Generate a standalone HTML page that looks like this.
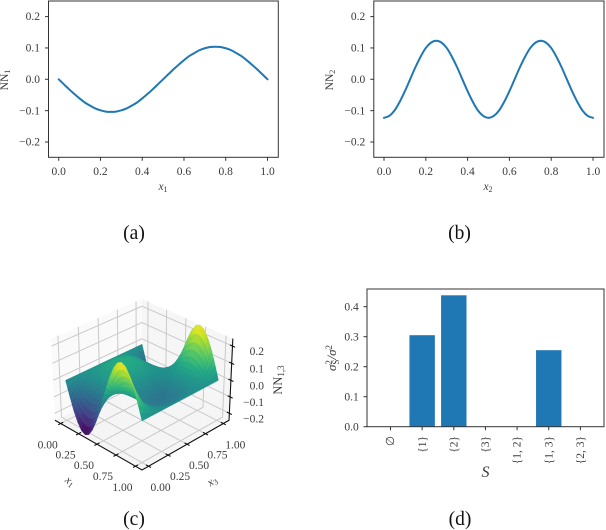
<!DOCTYPE html>
<html lang="en">
<head>
<meta charset="utf-8">
<title>Neural network component functions</title>
<style>
html,body{margin:0;padding:0;background:#fff;width:606px;height:530px;overflow:hidden}
svg{position:absolute;left:0;top:0;filter:blur(.35px)}
text{font-family:"Liberation Serif","DejaVu Serif",serif;fill:#3a3a3a;font-size:11.5px}
.cap{font-size:19.5px;fill:#111;text-anchor:middle}
.i{font-style:italic}
.u{font-style:normal}
</style>
</head>
<body>
<svg id="fig" xmlns="http://www.w3.org/2000/svg" width="606" height="530" viewBox="0 0 606 530">
<g id="a"></g>
<g id="b"></g>
<g id="c"></g>
<g id="d"></g>

<text class="i" x="163" y="190" text-anchor="middle">x<tspan class="u" font-size="8" dy="2">1</tspan></text>
<text x="0" y="0" text-anchor="middle" transform="translate(8,80) rotate(-90)">NN<tspan font-size="8" dy="2">1</tspan></text>
<text class="i" x="488" y="190" text-anchor="middle">x<tspan class="u" font-size="8" dy="2">2</tspan></text>
<text x="0" y="0" text-anchor="middle" transform="translate(333,80) rotate(-90)">NN<tspan font-size="8" dy="2">2</tspan></text>
<text class="i" x="0" y="0" text-anchor="middle" transform="translate(68,484) rotate(38)">x<tspan class="u" font-size="8" dy="2">1</tspan></text>
<text class="i" x="0" y="0" text-anchor="middle" transform="translate(214,484) rotate(-35)">x<tspan class="u" font-size="8" dy="2">3</tspan></text>
<text x="0" y="0" text-anchor="middle" style="font-size:12.5px" transform="translate(282,380) rotate(-90)">NN<tspan font-size="9" dy="2">1,3</tspan></text>
<text class="i" x="0" y="0" text-anchor="middle" style="font-size:13px" transform="translate(336,358) rotate(-90)">σ<tspan class="u" font-size="9" dy="-4">2</tspan><tspan class="u" font-size="9" dx="-4.5" dy="7">S</tspan><tspan dy="-3">/σ</tspan><tspan class="u" font-size="9" dy="-4">2</tspan></text>
<text class="i" x="485.5" y="477" text-anchor="middle" style="font-size:16px">S</text>

<text class="cap" x="134" y="239">(a)</text>
<text class="cap" x="459.5" y="239">(b)</text>
<text class="cap" x="134" y="525">(c)</text>
<text class="cap" x="460" y="525">(d)</text>
</svg>

<script>
// ---------- chart data ----------
const lineX = [0,.025,.05,.075,.1,.125,.15,.175,.2,.225,.25,.275,.3,.325,.35,.375,.4,.425,.45,.475,.5,.525,.55,.575,.6,.625,.65,.675,.7,.725,.75,.775,.8,.825,.85,.875,.9,.925,.95,.975,1];
const nn1Values = [0,-.016,-.032,-.047,-.061,-.074,-.084,-.093,-.099,-.103,-.104,-.103,-.099,-.093,-.084,-.074,-.061,-.047,-.032,-.016,0,.016,.032,.047,.061,.074,.084,.093,.099,.103,.104,.103,.099,.093,.084,.074,.061,.047,.032,.016,0];
const nn2Values = [-.123,-.117,-.1,-.072,-.038,0,.038,.072,.1,.117,.123,.117,.1,.072,.038,0,-.038,-.072,-.1,-.117,-.123,-.117,-.1,-.072,-.038,0,.038,.072,.1,.117,.123,.117,.1,.072,.038,0,-.038,-.072,-.1,-.117,-.123];
const lineXTicks = [0,.2,.4,.6,.8,1];
const lineXTickLabels = ['0.0','0.2','0.4','0.6','0.8','1.0'];
const lineYTicks = [-.2,-.1,0,.1,.2];
const lineYTickLabels = ['−0.2','−0.1','0.0','0.1','0.2'];

const barCategories = ['∅','{1}','{2}','{3}','{1, 2}','{1, 3}','{2, 3}'];
const barValues = [0,.305,.438,0,0,.255,0];
const barYTicks = [0,.1,.2,.3,.4];
const barYTickLabels = ['0.0','0.1','0.2','0.3','0.4'];

const surfaceTicks = [0,.25,.5,.75,1];
const surfaceTickLabels = ['0.00','0.25','0.50','0.75','1.00'];
const surfaceZTicks = [-.2,-.1,0,.1,.2];
const surfaceZTickLabels = ['−0.2','−0.1','0.0','0.1','0.2'];
// rows: x3 = 0 ... 1, columns: x1 = 0 ... 1
const surfaceZ = [
[0,-.083,-.159,-.218,-.257,-.27,-.257,-.218,-.159,-.083,0,.083,.159,.218,.257,.27,.257,.218,.159,.083,0],
[0,-.056,-.106,-.146,-.171,-.18,-.171,-.146,-.106,-.056,0,.056,.106,.146,.171,.18,.171,.146,.106,.056,0],
[0,-.032,-.062,-.085,-.1,-.105,-.1,-.085,-.062,-.032,0,.032,.062,.085,.1,.105,.1,.085,.062,.032,0],
[0,-.015,-.029,-.04,-.048,-.05,-.048,-.04,-.029,-.015,0,.015,.029,.04,.048,.05,.048,.04,.029,.015,0],
[0,-.004,-.007,-.01,-.011,-.012,-.011,-.01,-.007,-.004,0,.004,.007,.01,.011,.012,.011,.01,.007,.004,0],
[0,.004,.007,.01,.011,.012,.011,.01,.007,.004,0,-.004,-.007,-.01,-.011,-.012,-.011,-.01,-.007,-.004,0],
[0,.009,.018,.024,.029,.03,.029,.024,.018,.009,0,-.009,-.018,-.024,-.029,-.03,-.029,-.024,-.018,-.009,0],
[0,.014,.026,.036,.043,.045,.043,.036,.026,.014,0,-.014,-.026,-.036,-.043,-.045,-.043,-.036,-.026,-.014,0],
[0,.017,.032,.044,.051,.054,.051,.044,.032,.017,0,-.017,-.032,-.044,-.051,-.054,-.051,-.044,-.032,-.017,0],
[0,.018,.034,.047,.055,.058,.055,.047,.034,.018,0,-.018,-.034,-.047,-.055,-.058,-.055,-.047,-.034,-.018,0],
[0,.019,.035,.049,.057,.06,.057,.049,.035,.019,0,-.019,-.035,-.049,-.057,-.06,-.057,-.049,-.035,-.019,0],
[0,.018,.034,.047,.055,.058,.055,.047,.034,.018,0,-.018,-.034,-.047,-.055,-.058,-.055,-.047,-.034,-.018,0],
[0,.017,.032,.044,.051,.054,.051,.044,.032,.017,0,-.017,-.032,-.044,-.051,-.054,-.051,-.044,-.032,-.017,0],
[0,.014,.026,.036,.043,.045,.043,.036,.026,.014,0,-.014,-.026,-.036,-.043,-.045,-.043,-.036,-.026,-.014,0],
[0,.009,.018,.024,.029,.03,.029,.024,.018,.009,0,-.009,-.018,-.024,-.029,-.03,-.029,-.024,-.018,-.009,0],
[0,.004,.007,.01,.011,.012,.011,.01,.007,.004,0,-.004,-.007,-.01,-.011,-.012,-.011,-.01,-.007,-.004,0],
[0,-.004,-.007,-.01,-.011,-.012,-.011,-.01,-.007,-.004,0,.004,.007,.01,.011,.012,.011,.01,.007,.004,0],
[0,-.015,-.029,-.04,-.048,-.05,-.048,-.04,-.029,-.015,0,.015,.029,.04,.048,.05,.048,.04,.029,.015,0],
[0,-.032,-.062,-.085,-.1,-.105,-.1,-.085,-.062,-.032,0,.032,.062,.085,.1,.105,.1,.085,.062,.032,0],
[0,-.056,-.106,-.146,-.171,-.18,-.171,-.146,-.106,-.056,0,.056,.106,.146,.171,.18,.171,.146,.106,.056,0],
[0,-.083,-.159,-.218,-.257,-.27,-.257,-.218,-.159,-.083,0,.083,.159,.218,.257,.27,.257,.218,.159,.083,0]
];

// ---------- helpers ----------
const SVGNS = 'http://www.w3.org/2000/svg';
function make(tag, parent, attrs, txt) {
  const n = document.createElementNS(SVGNS, tag);
  for (const k in attrs) n.setAttribute(k, attrs[k]);
  if (txt !== undefined) n.textContent = txt;
  parent.appendChild(n);
  return n;
}
const DARK = '#333';
const BLUE = '#1f77b4';

function smoothPath(p) {
  let d = 'M' + p[0][0].toFixed(2) + ' ' + p[0][1].toFixed(2);
  for (let i = 0; i < p.length - 1; i++) {
    const a = p[Math.max(0, i - 1)], b = p[i], c = p[i + 1], e = p[Math.min(p.length - 1, i + 2)];
    d += 'C' + (b[0] + (c[0] - a[0]) / 6).toFixed(2) + ' ' + (b[1] + (c[1] - a[1]) / 6).toFixed(2) + ' ' +
         (c[0] - (e[0] - b[0]) / 6).toFixed(2) + ' ' + (c[1] - (e[1] - b[1]) / 6).toFixed(2) + ' ' +
         c[0].toFixed(2) + ' ' + c[1].toFixed(2);
  }
  return d;
}

// ---------- line panels ----------
function linePanel(parentId, left, right, x0, x1, labelRight, values, seriesName) {
  const g = document.getElementById(parentId);
  const sx = v => x0 + (x1 - x0) * v;
  const sy = v => 79.3 - 313.5 * v;
  const top = 1, bottom = 157.3;
  const pts = values.map((v, i) => [sx(lineX[i]), sy(v)]);
  const line = make('path', g, {d: smoothPath(pts), fill: 'none', stroke: BLUE, 'stroke-width': 2, 'stroke-linejoin': 'round', 'stroke-linecap': 'round'});
  
  
  const frame = make('rect', g, {x: left, y: top, width: right - left, height: bottom - top, fill: 'none', stroke: DARK, 'stroke-width': 1});
  
  
  lineXTicks.forEach((t, i) => {
    const tick = make('line', g, {x1: sx(t), x2: sx(t), y1: bottom, y2: bottom + 3.5, stroke: DARK, 'stroke-width': 1});
    
    
    const lab = make('text', g, {x: sx(t), y: 175, 'text-anchor': 'middle'}, lineXTickLabels[i]);
    
    
  });
  lineYTicks.forEach((t, i) => {
    const tick = make('line', g, {x1: left - 3.5, x2: left, y1: sy(t), y2: sy(t), stroke: DARK, 'stroke-width': 1});
    
    
    const lab = make('text', g, {x: labelRight, y: sy(t) + 3.6, 'text-anchor': 'end'}, lineYTickLabels[i]);
    
    
  });
}
linePanel('a', 48.5, 278.3, 58.7, 267.5, 40, nn1Values, 'nn1-line');
linePanel('b', 373.8, 604, 384, 593, 365.3, nn2Values, 'nn2-line');

// ---------- bar panel ----------
(function () {
  const g = document.getElementById('d');
  const left = 367, right = 604, top = 289, bottom = 426.7;
  const sx = i => 390.5 + 31.65 * i;
  const sy = v => bottom - 300 * v;
  const bw = 25.4;
  barValues.forEach((v, i) => {
    const bar = make('rect', g, {x: sx(i) - bw / 2, y: sy(v), width: bw, height: bottom - sy(v), fill: BLUE});
    
    
  });
  const frame = make('rect', g, {x: left, y: top, width: right - left, height: bottom - top, fill: 'none', stroke: DARK, 'stroke-width': 1});
  
  
  barCategories.forEach((c, i) => {
    const tick = make('line', g, {x1: sx(i), x2: sx(i), y1: bottom, y2: bottom + 3.5, stroke: DARK, 'stroke-width': 1});
    
    
    const lab = make('text', g, {x: 0, y: 0, 'text-anchor': 'end', transform: 'translate(' + (sx(i) + 3.6) + ',436) rotate(-90)'}, c);
    
    
  });
  barYTicks.forEach((t, i) => {
    const tick = make('line', g, {x1: left - 3.5, x2: left, y1: sy(t), y2: sy(t), stroke: DARK, 'stroke-width': 1});
    
    
    const lab = make('text', g, {x: 358.8, y: sy(t) + 3.6, 'text-anchor': 'end'}, barYTickLabels[i]);
    
    
  });
})();

// ---------- 3D surface panel ----------
(function () {
  const g = document.getElementById('c');
  const F = 1100, D = 8.75, CX = 142, CY = 380.3, S = .86, ZS = 1.543;
  const viridis = [[68,1,84],[72,36,117],[65,68,135],[53,95,141],[42,120,142],[33,145,140],[34,168,132],[68,191,112],[122,209,81],[189,223,38],[253,231,37]];
  function pn(X, Y, Z) {
    const r = (X + Y) * .7071;
    const u = (-X + Y) * .3536 + Z * .866;
    const w = (X - Y) * .6124 + Z * .5;
    const d = D - w;
    return {x: CX + F * r / d, y: CY - F * u / d, w: w};
  }
  const nx = v => (v - .5) * S;
  const nz = v => v * ZS;
  function colour(z) {
    let t = Math.max(0, Math.min(1, (z + .27) / .54)) * 10;
    const i = Math.min(9, Math.floor(t)); t -= i;
    const a = viridis[i], b = viridis[i + 1];
    return 'rgb(' + a.map((c, k) => Math.round(c + (b[k] - c) * t)).join(',') + ')';
  }
  const P = (a) => a.map(p => p.x.toFixed(2) + ',' + p.y.toFixed(2)).join(' ');
  const B = .5, T = .375;

  const paneL = make('polygon', g, {points: P([pn(-B,-B,-T),pn(-B,B,-T),pn(-B,B,T),pn(-B,-B,T)]), fill: '#fafafa'});
  
  
  const paneR = make('polygon', g, {points: P([pn(-B,B,-T),pn(B,B,-T),pn(B,B,T),pn(-B,B,T)]), fill: '#f6f6f6'});
  
  
  const paneF = make('polygon', g, {points: P([pn(-B,-B,-T),pn(B,-B,-T),pn(B,B,-T),pn(-B,B,-T)]), fill: '#f5f5f5'});
  
  

  const GRID = {fill: 'none', stroke: '#c9c9c9', 'stroke-width': 1};
  surfaceTicks.forEach(t => {
    const a = make('polyline', g, Object.assign({points: P([pn(nx(t),-B,-T),pn(nx(t),B,-T),pn(nx(t),B,T)])}, GRID));
    
    
    const b = make('polyline', g, Object.assign({points: P([pn(B,nx(t),-T),pn(-B,nx(t),-T),pn(-B,nx(t),T)])}, GRID));
    
    
  });
  surfaceZTicks.forEach(t => {
    const a = make('polyline', g, Object.assign({points: P([pn(-B,-B,nz(t)),pn(-B,B,nz(t)),pn(B,B,nz(t))])}, GRID));
    
    
  });

  // surface facets, refined 2x from the data grid and painted far to near
  const rows = surfaceZ.length, cols = surfaceZ[0].length;
  function zAt(u, v) {
    const fr = v * (rows - 1), fc = u * (cols - 1);
    const r = Math.min(rows - 2, Math.floor(fr)), c = Math.min(cols - 2, Math.floor(fc));
    const a = fr - r, b = fc - c;
    return (surfaceZ[r][c] * (1 - b) + surfaceZ[r][c + 1] * b) * (1 - a) + (surfaceZ[r + 1][c] * (1 - b) + surfaceZ[r + 1][c + 1] * b) * a;
  }
  const N = (rows - 1) * 2, M = (cols - 1) * 2, facets = [];
  for (let i = 0; i < N; i++) for (let j = 0; j < M; j++) {
    const q = [[j / M, i / N], [(j + 1) / M, i / N], [(j + 1) / M, (i + 1) / N], [j / M, (i + 1) / N]];
    let zm = 0;
    const pts = q.map(p => { const z = zAt(p[0], p[1]); zm += z / 4; return pn(nx(p[0]), nx(p[1]), nz(z)); });
    facets.push({pts: pts, z: zm, w: pts.reduce((s, p) => s + p.w, 0) / 4});
  }
  facets.sort((a, b) => a.w - b.w);
  const sg = make('g', g, {});
  
  
  facets.forEach(f => {
    const c = colour(f.z);
    const poly = make('polygon', sg, {points: P(f.pts), fill: c, stroke: c, 'stroke-width': .4});
    
    
  });

  const AX = {stroke: '#111', 'stroke-width': 1.1, fill: 'none'};
  const axis = make('polyline', g, Object.assign({points: P([pn(-B,-B,-T),pn(B,-B,-T),pn(B,B,-T),pn(B,B,T)])}, AX));
  
  

  surfaceTicks.forEach((t, i) => {
    const p = pn(nx(t), -B, -T);
    const tk = make('line', g, Object.assign({x1: p.x - 2.5, y1: p.y + 1.3, x2: p.x + 2.5, y2: p.y - 1.3}, AX));
    
    
    const lab = make('text', g, {x: p.x - 13, y: p.y + 25, 'text-anchor': 'middle'}, surfaceTickLabels[i]);
    
    

    const q = pn(B, nx(t), -T);
    const tk2 = make('line', g, Object.assign({x1: q.x - 2.5, y1: q.y - 1.3, x2: q.x + 2.5, y2: q.y + 1.3}, AX));
    
    
    const lab2 = make('text', g, {x: q.x + 12, y: q.y + 25, 'text-anchor': 'middle'}, surfaceTickLabels[i]);
    
    
  });
  surfaceZTicks.forEach((t, i) => {
    const p = pn(B, B, nz(t));
    const tk = make('line', g, Object.assign({x1: p.x - 2.5, y1: p.y - 1.2, x2: p.x + 2.5, y2: p.y + 1.2}, AX));
    
    
    const lab = make('text', g, {x: 264, y: p.y + 9, 'text-anchor': 'end'}, surfaceZTickLabels[i]);
    
    
  });
})();
</script>
</body>
</html>
